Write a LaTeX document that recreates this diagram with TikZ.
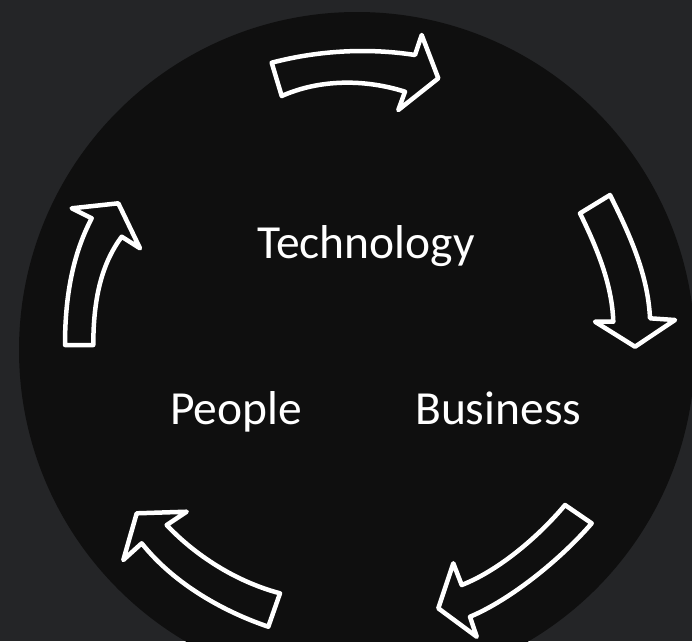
\documentclass[tikz,border=0pt]{standalone}
\usepackage{fontspec}
\setmainfont{Carlito}
\definecolor{bgc}{HTML}{242527}
\definecolor{circc}{HTML}{0F0F0F}
\begin{document}
\begin{tikzpicture}[x=1pt,y=-1pt,
  cyc/.style={draw=white,line width=4.5pt,line join=round,fill=circc},
  lbl/.style={text=white,inner sep=0pt,anchor=base west,font=\fontsize{47.5}{57}\selectfont}]
\fill[bgc] (0,0) rectangle (692,641);
\useasboundingbox (0,0) rectangle (692,641);
\begin{scope}
\clip (0,0) rectangle (692,641);
\fill[circc] (357,350) circle[radius=338];
\end{scope}
% top arrow
\draw[cyc] (271.7,62.7) .. controls (320,50) and (370,48) .. (415,55) -- (421.7,35) -- (438.3,78.3) -- (398.3,110) -- (405,91.7) .. controls (365,79) and (320,79) .. (281.7,96) -- cycle;
% right arrow
\draw[cyc] (580,213.3) .. controls (598,250) and (612,285) .. (613.3,321.7) -- (595,321.7) -- (635,346.7) -- (675,320) -- (650,318.3) .. controls (648,275) and (630,235) .. (610,195) -- cycle;
% bottom-right arrow
\draw[cyc] (565,505) .. controls (540,535) and (500,570) .. (461.7,585) -- (453.3,563.3) -- (438.3,608.3) -- (476.7,636.7) -- (470,616.7) .. controls (510,600) and (560,560) .. (591.7,523.3) -- cycle;
% bottom-left arrow
\draw[cyc] (268.3,626.7) .. controls (225,612) and (175,585) .. (141.7,543.3) -- (123.3,560) -- (136.7,513.3) -- (186.7,511.7) -- (166.7,525) .. controls (190,550) and (230,580) .. (280,593.3) -- cycle;
% left arrow
\draw[cyc] (93.3,345) .. controls (93.3,295) and (103,262) .. (121.7,236.7) -- (140,248.3) -- (118.3,203.3) -- (71.7,208.3) -- (91.7,218.3) .. controls (75,250) and (65,290) .. (65,345) -- cycle;
% labels
\node[lbl] (tech) at (257,258) {Technology};
\node[lbl] (people) at (170,424) {People};
\node[lbl] (business) at (415,424) {Business};
\end{tikzpicture}
\end{document}
